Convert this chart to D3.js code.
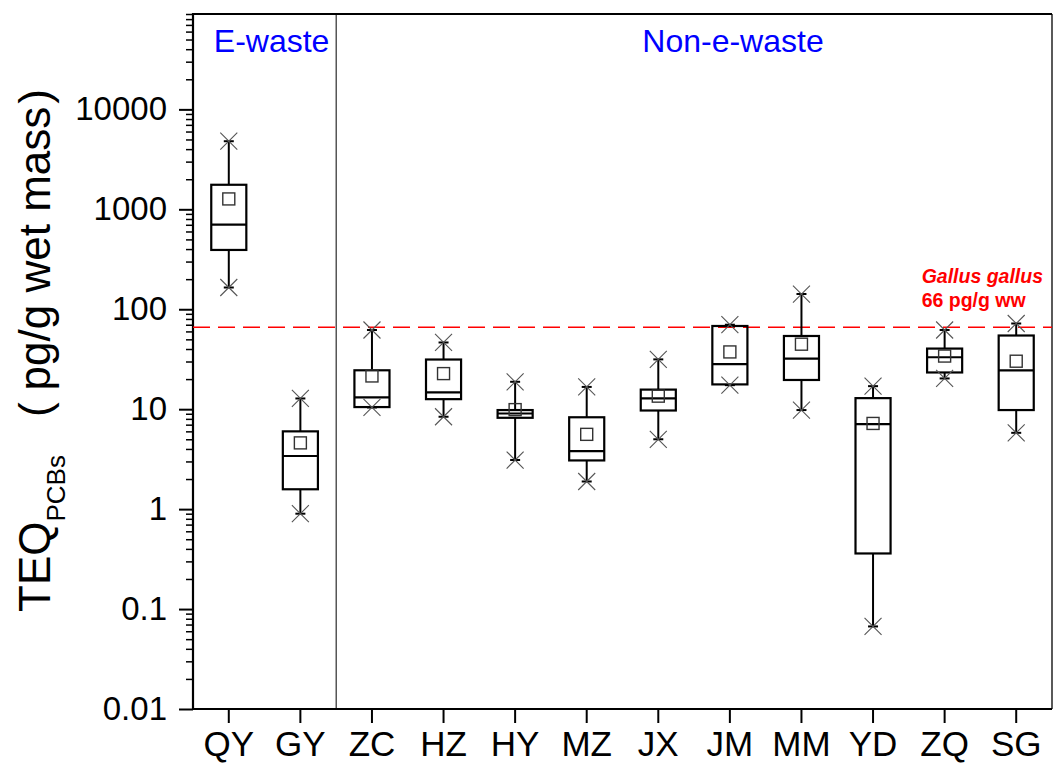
<!DOCTYPE html>
<html>
<head>
<meta charset="utf-8">
<script src="https://cdn.jsdelivr.net/npm/d3@7"></script>
<style>
  html, body { margin: 0; padding: 0; background: #fff; }
  svg { display: block; }
  text { font-family: "Liberation Sans", Arial, sans-serif; }
</style>
</head>
<body>
<svg id="chart" width="1054" height="766"></svg>
<script>
// Sampling sites
const categories = ["QY", "GY", "ZC", "HZ", "HY", "MZ", "JX", "JM", "MM", "YD", "ZQ", "SG"];
// Box statistics (pg/g wet mass)
const whiskerHigh = [4800, 12.8, 62, 46.5, 18.8, 16.7, 31.5, 70, 142, 17, 62, 72];
const q3Values = [1760, 6.0, 24.5, 31.4, 9.8, 8.3, 15.7, 68, 54, 12.9, 40.4, 54.6];
const medianValues = [703, 3.4, 13.1, 14.7, 9.05, 3.8, 12.8, 28.2, 32.1, 7.1, 33.1, 24.5];
const q1Values = [392, 1.58, 10.5, 12.6, 8.2, 3.07, 9.7, 17.7, 19.6, 0.36, 23.3, 9.8];
const whiskerLow = [165, 0.9, 10.4, 8.4, 3.1, 1.89, 5.0, 17.4, 9.8, 0.067, 20.3, 5.8];
const meanValues = [1270, 4.6, 21.5, 22.7, 9.9, 5.6, 13.5, 37.4, 44.7, 7.2, 34, 30.2];
// Y axis ticks
const yTickValues = [0.01, 0.1, 1, 10, 100, 1000, 10000];
const yTickLabels = ["0.01", "0.1", "1", "10", "100", "1000", "10000"];
// Reference level for Gallus gallus
const thresholdValue = 66;
const thresholdLines = ["Gallus gallus", "66 pg/g ww"];
const groupLabels = ["E-waste", "Non-e-waste"];

const svg = d3.select("#chart");
const margin = { left: 193, right: 2, top: 14, bottom: 57 };
const W = 1054, H = 766;
const x0 = margin.left, x1 = W - margin.right, y0 = margin.top, y1 = H - margin.bottom;

const x = d3.scaleBand().domain(categories).range([x0, x1]).padding(0);
const y = d3.scaleLog().domain([0.01, 90000]).range([y1, y0]);

const rows = categories.map((c, i) => ({
  c, hi: whiskerHigh[i], q3: q3Values[i], med: medianValues[i],
  q1: q1Values[i], lo: whiskerLow[i], mean: meanValues[i]
}));

// Minor ticks on the log axis
const minorTicks = [];
for (let e = -2; e <= 4; e++) {
  for (let k = 2; k <= 9; k++) {
    const v = k * Math.pow(10, e);
    if (v <= 90000) minorTicks.push(v);
  }
}

const yMinor = svg.append("g")
  .attr("transform", `translate(${x0},0)`)
  .call(d3.axisLeft(y).tickValues(minorTicks).tickSize(7).tickFormat(""));
yMinor.select(".domain").remove();
yMinor.selectAll(".tick line").attr("stroke", "#000").attr("stroke-width", 1.5);

const yMajor = svg.append("g")
  .attr("transform", `translate(${x0},0)`)
  .call(d3.axisLeft(y).tickValues(yTickValues).tickSize(14).tickSizeOuter(0).tickPadding(12)
    .tickFormat((d, i) => yTickLabels[i]));
yMajor.select(".domain").remove();
yMajor.selectAll(".tick line").attr("stroke", "#000").attr("stroke-width", 2);
yMajor.selectAll(".tick text").attr("font-size", 33).attr("fill", "#000")
  .attr("font-family", "'Liberation Sans', Arial, sans-serif");

const xAxis = svg.append("g")
  .attr("transform", `translate(0,${y1})`)
  .call(d3.axisBottom(x).tickSize(14).tickSizeOuter(0).tickPadding(8));
xAxis.select(".domain").remove();
xAxis.selectAll(".tick line").attr("stroke", "#000").attr("stroke-width", 2);
xAxis.selectAll(".tick text").attr("font-size", 35).attr("fill", "#000")
  .attr("font-family", "'Liberation Sans', Arial, sans-serif");

// Plot frame
const frame = svg.append("g").attr("fill", "none").attr("stroke", "#000");
frame.append("line").attr("x1", x0).attr("x2", x0).attr("y1", y0 - 1).attr("y2", y1 + 1).attr("stroke-width", 2.2);
frame.append("line").attr("x1", x0).attr("x2", x1).attr("y1", y1).attr("y2", y1).attr("stroke-width", 2.2);
frame.append("line").attr("x1", x0).attr("x2", x1).attr("y1", y0).attr("y2", y0).attr("stroke-width", 2);
frame.append("line").attr("x1", x1).attr("x2", x1).attr("y1", y0).attr("y2", y1).attr("stroke-width", 1.3);

// Divider between e-waste and non-e-waste sites
const divX = (x("GY") + x.bandwidth() + x("ZC")) / 2;
svg.append("line").attr("x1", divX).attr("x2", divX).attr("y1", y0).attr("y2", y1)
  .attr("stroke", "#000").attr("stroke-width", 1);

// Threshold line
svg.append("line")
  .attr("x1", x0).attr("x2", x1)
  .attr("y1", y(thresholdValue)).attr("y2", y(thresholdValue))
  .attr("stroke", "#ff0000").attr("stroke-width", 1.5).attr("stroke-dasharray", "17,8");

// Boxes
const boxW = x.bandwidth() * 0.49;
const capW = 10, starR = 8.5, meanS = 12;
const g = svg.append("g");
rows.forEach(d => {
  const cx = x(d.c) + x.bandwidth() / 2;
  const bg = g.append("g");
  // whiskers
  bg.append("line").attr("x1", cx).attr("x2", cx).attr("y1", y(d.hi)).attr("y2", y(d.q3))
    .attr("stroke", "#000").attr("stroke-width", 2);
  bg.append("line").attr("x1", cx).attr("x2", cx).attr("y1", y(d.q1)).attr("y2", y(d.lo))
    .attr("stroke", "#000").attr("stroke-width", 2);
  // box
  bg.append("rect").attr("x", cx - boxW / 2).attr("width", boxW)
    .attr("y", y(d.q3)).attr("height", y(d.q1) - y(d.q3))
    .attr("fill", "none").attr("stroke", "#000").attr("stroke-width", 2.2);
  // median
  bg.append("line").attr("x1", cx - boxW / 2).attr("x2", cx + boxW / 2)
    .attr("y1", y(d.med)).attr("y2", y(d.med)).attr("stroke", "#000").attr("stroke-width", 2.2);
  // extreme markers and caps
  [d.hi, d.lo].forEach(v => {
    const yy = y(v);
    bg.append("line").attr("x1", cx - capW / 2).attr("x2", cx + capW / 2).attr("y1", yy).attr("y2", yy)
      .attr("stroke", "#000").attr("stroke-width", 2);
    bg.append("path")
      .attr("d", `M${cx - starR},${yy - starR}L${cx + starR},${yy + starR}M${cx - starR},${yy + starR}L${cx + starR},${yy - starR}`)
      .attr("stroke", "#555").attr("stroke-width", 1.1).attr("fill", "none");
  });
  // mean
  bg.append("rect").attr("x", cx - meanS / 2).attr("y", y(d.mean) - meanS / 2)
    .attr("width", meanS).attr("height", meanS)
    .attr("fill", "none").attr("stroke", "#333").attr("stroke-width", 1.4);
});

// Group labels
svg.append("text").attr("x", x("QY") + x.bandwidth() / 2 - 15).attr("y", 52)
  .attr("font-size", 32).attr("fill", "#0000ff").text(groupLabels[0]);
svg.append("text").attr("x", x("JX") + x.bandwidth() / 2 - 16).attr("y", 52)
  .attr("font-size", 32).attr("fill", "#0000ff").text(groupLabels[1]);

// Threshold annotation
const tx = x("ZQ") + x.bandwidth() / 2 - 23;
svg.append("text").attr("x", tx).attr("y", 283)
  .attr("font-size", 19.5).attr("font-weight", "bold").attr("font-style", "italic")
  .attr("fill", "#ff0000").text(thresholdLines[0]);
svg.append("text").attr("x", tx).attr("y", 307)
  .attr("font-size", 19.5).attr("font-weight", "bold")
  .attr("fill", "#ff0000").text(thresholdLines[1]);

// Y axis title: TEQ with subscript, then the unit in wide brackets
const yt = svg.append("text")
  .attr("transform", "translate(50,612) rotate(-90)")
  .attr("text-anchor", "start").attr("font-size", 44).attr("fill", "#000");
yt.append("tspan").text("TEQ");
yt.append("tspan").attr("font-size", 26).attr("dy", 15).text("PCBs");
yt.append("tspan").attr("dy", -15).attr("dx", 38).attr("font-weight", 300).text("(");
yt.append("tspan").attr("dx", 12).text("pg/g wet mass");
yt.append("tspan").attr("dx", 3).attr("font-weight", 300).text(")");
</script>
</body>
</html>
